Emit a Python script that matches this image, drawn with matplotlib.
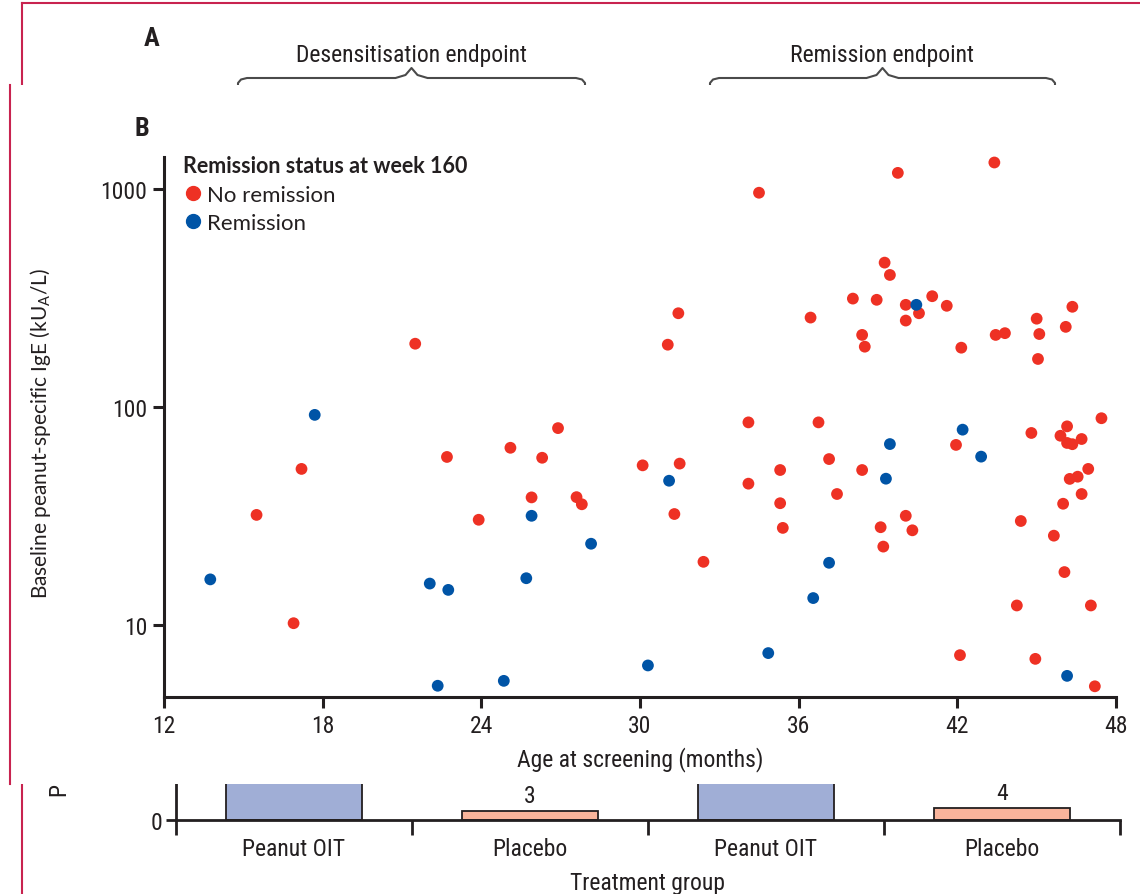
import numpy as np
import matplotlib
matplotlib.use("Agg")
import matplotlib.pyplot as plt
from matplotlib.lines import Line2D
from matplotlib import font_manager

# --- data -----------------------------------------------------------------
no_rem_age = [15.5, 16.9, 17.2, 21.5, 22.7, 23.9, 25.1, 26.3, 25.9, 26.9, 27.6, 27.8,
              30.1, 31.05, 31.3, 31.45, 31.5, 32.4, 34.1, 34.1, 34.5, 35.3, 35.3, 35.4,
              36.45, 36.75, 37.15, 37.45, 38.05, 38.4, 38.4, 38.5, 38.95, 39.1, 39.2,
              39.25, 39.45, 39.75, 40.05, 40.05, 40.05, 40.3, 40.55, 41.05, 41.6, 41.95,
              42.1, 42.15, 43.4, 43.45, 43.8, 44.25, 44.4, 44.8, 44.95, 45.0, 45.05, 45.1,
              45.65, 45.9, 46.0, 46.05, 46.1, 46.15, 46.15, 46.25, 46.35, 46.35, 46.55,
              46.7, 46.7, 46.95, 47.05, 47.2, 47.45]
no_rem_ige = [32, 10.2, 52, 195, 59, 30.4, 65, 58.5, 38.5, 80, 38.6, 35.8,
              54, 193, 32.3, 269, 55, 19.5, 85, 44.5, 960, 51.4, 36.2, 27.9,
              257, 85, 57.7, 39.9, 314, 214, 51.4, 189, 310, 28.1, 22.9,
              459, 403, 1184, 294, 249, 31.7, 27.2, 269, 322, 291, 67,
              7.28, 187, 1321, 214, 218, 12.3, 30, 76, 7.0, 254, 166, 216,
              25.7, 73.8, 36, 17.5, 233, 81.5, 68.4, 46.8, 67.5, 288, 47.9,
              71.3, 39.9, 52, 12.3, 5.24, 88.8]

rem_age = [13.75, 17.7, 22.05, 22.35, 22.75, 24.85, 25.7, 25.9, 28.15, 30.3, 31.1,
           34.85, 36.55, 37.15, 39.3, 39.45, 40.45, 42.2, 42.9, 46.15]
rem_ige = [16.2, 92, 15.5, 5.27, 14.5, 5.55, 16.4, 31.7, 23.6, 6.53, 45.9,
           7.44, 13.3, 19.3, 46.9, 67.6, 294, 78.7, 59.2, 5.85]

x_ticks = [12, 18, 24, 30, 36, 42, 48]
y_ticks = [10, 100, 1000]

# panel A (mostly hidden behind panel B)
a_groups = ["Peanut OIT", "Placebo", "Peanut OIT", "Placebo"]
a_values = [71, 3, 21, 4]
a_labels = ["", "3", "", "4"]   # OIT labels sit behind panel B
a_endpoints = ["Desensitisation endpoint", "Remission endpoint"]

# --- style ----------------------------------------------------------------
names = {f.name for f in font_manager.fontManager.ttflist}
COND = next((n for n in ["Liberation Sans Narrow", "Roboto Condensed", "Open Sans Condensed"]
             if n in names), "DejaVu Sans")
STRETCH = "normal" if COND != "DejaVu Sans" else "condensed"
SANS = "Lato" if "Lato" in names else "DejaVu Sans"

RED = "#ee3124"
BLUE = "#0054a6"
INK = "#231f20"
CRIMSON = "#c8234f"
BAR_BLUE = "#a0aed6"
BAR_PINK = "#f9b49b"

W, H = 1140, 895
fig = plt.figure(figsize=(W / 100, H / 100), dpi=100)


def fx(px):
    return px / W


def fy(py):
    return (H - py) / H


# header / frame layer (panel A context)
ax_head = fig.add_axes([0, 0, 1, 1], zorder=0)
ax_head.set_xlim(0, W)
ax_head.set_ylim(H, 0)
ax_head.axis("off")
ax_head.plot([22, W], [4, 4], color=CRIMSON, lw=1.5)
ax_head.plot([22, 22], [4, H], color=CRIMSON, lw=1.5)
ax_head.text(152, 39, "A", fontsize=19, fontweight="bold", color=INK,
             family=COND, fontstretch=STRETCH, ha="center", va="center")


def brace(ax, x0, x1, ytop, label):
    xc = (x0 + x1) / 2
    xs = [x0, x0, x0 + 3, x0 + 9, xc - 16, xc - 6, xc, xc + 6, xc + 16, x1 - 9, x1 - 3, x1, x1]
    ys = [ytop + 14, ytop + 5, ytop + 1.5, ytop, ytop, ytop - 3, ytop - 10, ytop - 3,
          ytop, ytop, ytop + 1.5, ytop + 5, ytop + 14]
    ax.plot(xs, ys, color="#4a4a4a", lw=1.5, solid_joinstyle="round")
    ax.text(xc, ytop - 24, label, ha="center", va="center", fontsize=17,
            family=COND, fontstretch=STRETCH, color=INK)


brace(ax_head, 238, 585, 79, a_endpoints[0])
brace(ax_head, 710, 1055, 79, a_endpoints[1])

# panel A bar chart
ax_a = fig.add_axes([fx(176), fy(821), fx(1120) - fx(176), fy(521) - fy(821)], zorder=0.5)
ax_a.patch.set_alpha(0)
pos = np.arange(len(a_groups))
colors = [BAR_BLUE, BAR_PINK, BAR_BLUE, BAR_PINK]
ax_a.bar(pos, a_values, width=0.58, color=colors, edgecolor=INK, linewidth=1.3)
for p, v, lab in zip(pos, a_values, a_labels):
    if lab:
        ax_a.text(p, v + 1.2, lab, ha="center", va="bottom", fontsize=17,
                  family=COND, fontstretch=STRETCH, color=INK)
ax_a.set_xlim(-0.5, len(a_groups) - 0.5)
ax_a.set_ylim(0, 100)
for s in ["top", "right"]:
    ax_a.spines[s].set_visible(False)
for s in ["left", "bottom"]:
    ax_a.spines[s].set_linewidth(2.0)
    ax_a.spines[s].set_color(INK)
ax_a.set_xticks(pos)
ax_a.set_xticklabels(a_groups, family=COND, fontstretch=STRETCH, fontsize=17, color=INK)
ax_a.set_xticks(np.arange(-0.5, len(a_groups)), minor=True)
ax_a.tick_params(axis="x", which="major", length=0, pad=12)
ax_a.tick_params(axis="x", which="minor", length=11, width=2.0, color=INK, direction="out")
ax_a.set_yticks([0])
ax_a.set_yticklabels(["0"], family=COND, fontstretch=STRETCH, fontsize=17, color=INK)
ax_a.tick_params(axis="y", length=7, width=2.0, color=INK, pad=3)
ax_a.set_xlabel("Treatment group", family=COND, fontstretch=STRETCH, fontsize=17,
                color=INK, labelpad=8)
fig.text(fx(60), fy(797), "Participants (%)", rotation=90, ha="center", va="bottom",
         family=COND, fontstretch=STRETCH, fontsize=17, color=INK, zorder=0.5)

# panel B white backdrop
ax_bg = fig.add_axes([fx(10), fy(785), 1 - fx(10), fy(86) - fy(785)], zorder=1)
ax_bg.set_xticks([])
ax_bg.set_yticks([])
for s in ["top", "right", "bottom"]:
    ax_bg.spines[s].set_visible(False)
ax_bg.spines["left"].set_color(CRIMSON)
ax_bg.spines["left"].set_linewidth(1.5)
ax_bg.text((fx(142) - fx(10)) / (1 - fx(10)), (fy(129) - fy(785)) / (fy(86) - fy(785)),
           "B", transform=ax_bg.transAxes, fontsize=19, fontweight="bold", color=INK,
           family=COND, fontstretch=STRETCH, ha="center", va="center")

# panel B scatter
ax = fig.add_axes([fx(164), fy(698), fx(1116) - fx(164), fy(158) - fy(698)], zorder=2)
ax.patch.set_alpha(0)
ax.scatter(no_rem_age, no_rem_ige, s=72, color=RED, edgecolor="none", zorder=3, clip_on=False)
ax.scatter(rem_age, rem_ige, s=72, color=BLUE, edgecolor="none", zorder=3, clip_on=False)
ax.set_yscale("log")
ax.set_xlim(12, 48)
ax.set_ylim(4.68, 1400)
ax.set_xticks(x_ticks)
ax.set_xticklabels([str(t) for t in x_ticks], family=COND, fontstretch=STRETCH,
                   fontsize=17, color=INK)
ax.set_yticks(y_ticks)
ax.set_yticklabels([str(t) for t in y_ticks], family=COND, fontstretch=STRETCH,
                   fontsize=17, color=INK)
ax.yaxis.set_minor_locator(matplotlib.ticker.NullLocator())
for s in ["top", "right"]:
    ax.spines[s].set_visible(False)
for s in ["left", "bottom"]:
    ax.spines[s].set_linewidth(2.2)
    ax.spines[s].set_color(INK)
ax.tick_params(length=8, width=2.2, color=INK, pad=4)
ax.set_xlabel("Age at screening (months)", family=COND, fontstretch=STRETCH,
              fontsize=17, color=INK, labelpad=7)
ax.set_ylabel("Baseline peanut-specific IgE (kU$_\\mathregular{A}$/L)", family=SANS,
              fontsize=15, color=INK)
ax.yaxis.set_label_coords(-0.117, 0.49)

handles = [Line2D([], [], marker="o", ls="none", color=RED, markersize=10),
           Line2D([], [], marker="o", ls="none", color=BLUE, markersize=10)]
leg = ax.legend(handles, ["No remission", "Remission"], title="Remission status at week 160",
                loc="upper left", bbox_to_anchor=(0.011, 1.02), frameon=False,
                alignment="left", handletextpad=0.15, handlelength=0.9, borderaxespad=0,
                labelspacing=0.38, prop={"family": SANS, "size": 16},
                title_fontproperties={"family": SANS, "size": 15.5, "weight": "bold"})
for t in leg.get_texts():
    t.set_color(INK)
leg.get_title().set_color(INK)

fig.savefig("out.png", dpi=100)
